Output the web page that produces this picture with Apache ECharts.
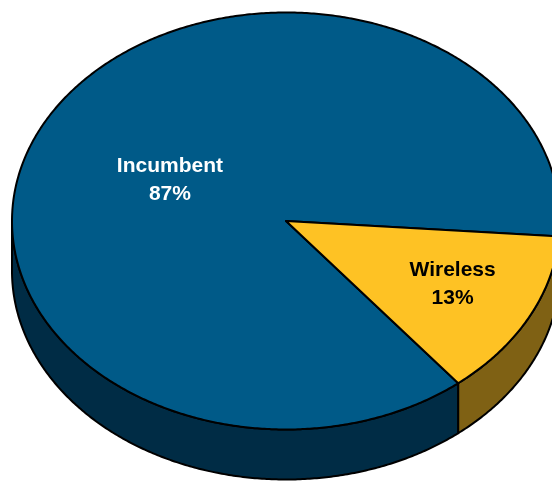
<!DOCTYPE html>
<html><head><meta charset="utf-8">
<script src="https://cdn.jsdelivr.net/npm/echarts@6/dist/echarts.min.js"></script>
<style>html,body{margin:0;padding:0;background:#fff}#c{width:552px;height:483px}</style>
</head><body><div id="c"></div>
<script>
const categories = ['Incumbent', 'Wireless'];
const values = [87, 13];

const topColors = ['#005A88', '#FEC224'];
const sideColors = ['#002C45', '#7F6114'];
const labelColors = ['#FFFFFF', '#000000'];
const labelRadius = [0.47, 0.67];
const labelShift = [[-2, 5], [4, -2]];

const CX = 286, CY = 221, RX = 274, RY = 208.5, DEPTH = 50;
const START = 51.05; // screen degrees (clockwise from east) where first slice begins

const total = values.reduce((a, b) => a + b, 0);
function pt(deg, dy) {
  const r = deg * Math.PI / 180;
  return [CX + RX * Math.cos(r), CY + (dy || 0) + RY * Math.sin(r)];
}
function arc(a, b, dy) {
  const pts = [];
  const n = Math.max(2, Math.ceil(Math.abs(b - a) / 0.5));
  for (let i = 0; i <= n; i++) pts.push(pt(a + (b - a) * i / n, dy));
  return pts;
}
function visibleRanges(a, b) {
  const out = [];
  for (let k = -1; k <= 2; k++) {
    const lo = Math.max(a, k * 360), hi = Math.min(b, k * 360 + 180);
    if (hi > lo) out.push([lo, hi]);
  }
  return out;
}

const chart = echarts.init(document.getElementById('c'), null, { renderer: 'canvas' });
chart.setOption({
  animation: false,
  series: [{
    type: 'custom',
    coordinateSystem: 'none',
    data: values.map((v, i) => ({ name: categories[i], value: [v, i] })),
    renderItem: function (params, api) {
      const i = params.dataIndex;
      const v = api.value(0);
      let before = 0;
      for (let j = 0; j < i; j++) before += values[j];
      const a = START + before / total * 360;
      const b = a + v / total * 360;
      const children = [];
      visibleRanges(a, b).forEach(function (r) {
        const pts = arc(r[0], r[1], 0).concat(arc(r[1], r[0], DEPTH));
        children.push({
          type: 'polygon', z2: 1,
          shape: { points: pts },
          style: { fill: sideColors[i], stroke: '#000', lineWidth: 2, lineJoin: 'round' }
        });
      });
      children.push({
        type: 'polygon', z2: 10,
        shape: { points: [[CX, CY]].concat(arc(a, b, 0)) },
        style: { fill: topColors[i], stroke: '#000', lineWidth: 2, lineJoin: 'round' }
      });
      const mid = (a + b) / 2 * Math.PI / 180;
      const f = labelRadius[i];
      children.push({
        type: 'text', z2: 20,
        x: CX + RX * f * Math.cos(mid) + labelShift[i][0],
        y: CY + RY * f * Math.sin(mid) + labelShift[i][1],
        style: {
          text: categories[i] + '\n' + Math.round(v / total * 100) + '%',
          fill: labelColors[i],
          font: 'bold 21px "Liberation Sans", Arial, sans-serif',
          align: 'center', verticalAlign: 'middle', lineHeight: 28
        }
      });
      return { type: 'group', children: children };
    }
  }]
});
</script></body></html>
